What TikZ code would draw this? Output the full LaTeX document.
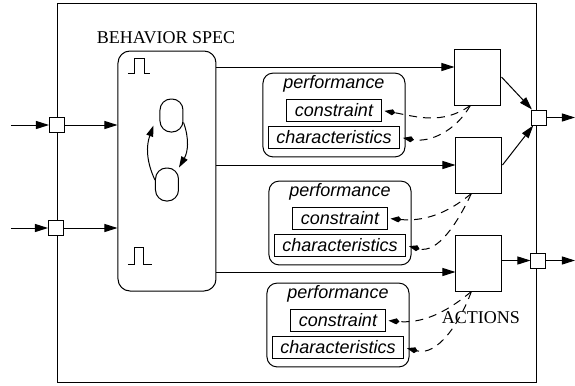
\documentclass[tikz,border=0pt]{standalone}
\usepackage{fontspec}
\setmainfont{Liberation Serif}
\setsansfont{Liberation Sans}
\usepackage{tikz}
\usetikzlibrary{arrows.meta, positioning, fit}
\newcommand{\lblsize}{\fontsize{9}{11}\selectfont}
\tikzstyle{frame} = [
    rectangle,
    draw=black,
    minimum width=239.5pt,
    minimum height=189.5pt
]
\tikzstyle{port} = [rectangle, draw=black, fill=white, minimum size=7.5pt, inner sep=0pt]
\tikzstyle{spec} = [
    rectangle,
    draw=black,
    rounded corners=6pt,
    minimum width=49pt,
    minimum height=120pt
]
\tikzstyle{actbox} = [rectangle, draw=black, fill=white, minimum width=23pt, minimum height=28pt, inner sep=0pt]
\tikzstyle{statebox} = [rectangle, draw=black, rounded corners=5.5pt, minimum width=11.5pt, minimum height=16.5pt, inner sep=0pt]
\tikzstyle{perf} = [font=\lblsize\sffamily\itshape, inner sep=0pt]
\tikzstyle{param} = [rectangle, draw=black, font=\lblsize\sffamily\itshape, inner xsep=4pt, inner ysep=0pt, minimum height=11pt]
\tikzstyle{group} = [rectangle, draw=black, rounded corners=5pt, inner xsep=2.5pt, inner ysep=2.5pt, yshift=-1.5pt]
\tikzstyle{lbl} = [font=\lblsize]
\tikzstyle{flow} = [-{Triangle[length=6.5pt,width=4pt]}]
\tikzstyle{trans} = [-{Triangle[length=5.5pt,width=3.5pt]}]
\tikzstyle{link} = [dash pattern=on 4pt off 3pt, -{Kite[length=5.5pt,width=3pt,inset=1.5pt]}, shorten >=1.5pt]

\begin{document}
\begin{tikzpicture}[x=0.5pt, y=0.5pt, line width=0.5pt, node distance=2pt]
    \useasboundingbox (0,0) rectangle (575,-386);
    % system frame and ports
    \node (sys) [frame] at (297.5,-192.5) {};
    \node (pi1) [port] at (57,-125) {};
    \node (pi2) [port] at (56,-228) {};
    \node (po1) [port] at (539.5,-117.5) {};
    \node (po2) [port] at (538.5,-260.5) {};
    \coordinate (in1) at (11,-125);
    \coordinate (in2) at (11,-228);
    \coordinate (out1) at (575,-117.5);
    \coordinate (out2) at (575,-260.5);

    % behavior spec
    \node (beh) [spec] at (167,-171) {};
    \node (bspec) [lbl] at (166,-37.5) {BEHAVIOR SPEC};
    \node (s1) [statebox] at (171.5,-115.5) {};
    \node (s2) [statebox] at (167,-184.5) {};
    \draw [trans] (s2.160) to [out=115, in=-110] ([shift={(-3pt,3.5pt)}]s1.south west);
    \draw [trans] (s1.-30) to [out=-70, in=60] (s2.north east);
    \draw (128,-73) -- (135,-73) -- (135,-58) -- (145,-58) -- (145,-73) -- (150,-73);
    \draw (128,-264) -- (135,-264) -- (135,-247) -- (144,-247) -- (144,-264) -- (152,-264);

    % actions
    \node (act1) [actbox] at (478,-77) {};
    \node (act2) [actbox] at (479,-165) {};
    \node (act3) [actbox] at (479,-263) {};
    \node (actlbl) [lbl] at (481,-317.5) {ACTIONS};

    % performance blocks
    \node (pA) [perf] at (334,-84) {performance};
    \node (cA) [param, below=3pt of pA] {constraint};
    \node (hA) [param, below=of cA] {characteristics};
    \node (gA) [group, fit=(pA)(cA)(hA)] {};

    \node (pB) [perf] at (340,-192) {performance};
    \node (cB) [param, below=3pt of pB] {constraint};
    \node (hB) [param, below=of cB] {characteristics};
    \node (gB) [group, fit=(pB)(cB)(hB)] {};

    \node (pC) [perf] at (338,-294) {performance};
    \node (cC) [param, below=3pt of pC] {constraint};
    \node (hC) [param, below=of cC] {characteristics};
    \node (gC) [group, fit=(pC)(cC)(hC)] {};

    % signal flow
    \draw [flow] (in1) -- (pi1);
    \draw [flow] (in2) -- (pi2);
    \draw [flow] (pi1) -- (pi1 -| beh.west);
    \draw [flow] (pi2) -- (pi2 -| beh.west);
    \draw [flow] ([yshift=5pt]act1.west -| beh.east) -- ([yshift=5pt]act1.west);
    \draw [flow] (act2.west -| beh.east) -- (act2.west);
    \draw [flow] ([yshift=-4.5pt]act3.west -| beh.east) -- ([yshift=-4.5pt]act3.west);
    \draw [flow] (act1.east) -- (po1);
    \draw [flow] (act2.east) -- (po1);
    \draw [flow] (po2 -| act3.east) -- (po2);
    \draw [flow] (po1) -- (out1);
    \draw [flow] (po2) -- (out2);

    % constraint links
    \draw [link] (act1.-105) to [out=215, in=-10] (cA.east);
    \draw [link] (act1.-105) to [out=240, in=-10] (hA.east);
    \draw [link] (act2.-105) to [out=220, in=-5] (cB.east);
    \draw [link] (act2.-105) to [out=245, in=-15] (hB.east);
    \draw [link] (act3.-105) to [out=220, in=-5] (cC.east);
    \draw [link] (act3.-105) to [out=250, in=-15] (hC.east);
\end{tikzpicture}
\end{document}
